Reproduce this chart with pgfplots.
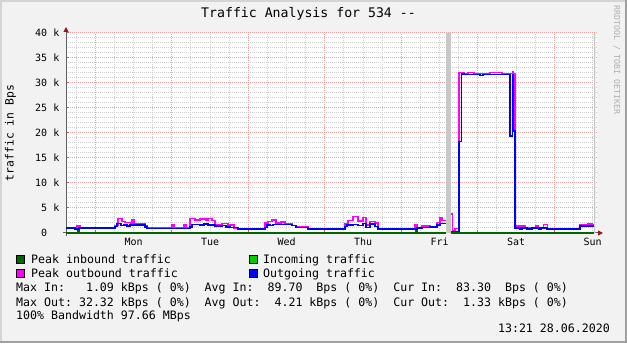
\documentclass[border=0pt]{standalone}
\usepackage{fontspec}
\setmainfont{DejaVu Sans Mono}
\usepackage{pgfplots}
\pgfplotsset{compat=1.18}
\usetikzlibrary{arrows.meta}
\definecolor{bgc}{RGB}{242,242,242}
\definecolor{shadea}{RGB}{212,212,212}
\definecolor{shadeb}{RGB}{160,160,160}
\definecolor{mgridc}{RGB}{236,160,160}
\definecolor{gridc}{RGB}{206,206,206}
\definecolor{tickc}{RGB}{220,90,90}
\definecolor{axisc}{RGB}{95,95,95}
\definecolor{arrowc}{RGB}{150,25,25}
\definecolor{peakinc}{RGB}{0,102,0}
\definecolor{incomingc}{RGB}{0,204,0}
\definecolor{peakoutc}{RGB}{255,0,255}
\definecolor{outgoingc}{RGB}{0,0,255}
\definecolor{unkc}{RGB}{200,200,200}
\definecolor{wmc}{RGB}{175,175,175}
\begin{document}
\begin{tikzpicture}
\fill[bgc] (0pt,0pt) rectangle (627pt,343pt);
\fill[shadea] (0pt,0pt) rectangle (2pt,343pt);
\fill[shadea] (0pt,341pt) rectangle (627pt,343pt);
\fill[shadeb] (625pt,0pt) rectangle (627pt,343pt);
\fill[shadeb] (0pt,0pt) rectangle (627pt,2pt);
\node[anchor=base, font=\fontsize{13.2}{15}\selectfont] at (308.5pt,325pt) {Traffic Analysis for 534 -{}-};
\node[rotate=90, anchor=base, font=\fontsize{11.4}{13}\selectfont] at (13.5pt,210pt) {traffic in Bps};
\node[rotate=-90, anchor=base, font=\fontsize{8.3}{10}\selectfont, text=wmc] at (614pt,283pt) {RRDTOOL / TOBI OETIKER};
\begin{axis}[
  at={(66pt,110pt)}, anchor=south west,
  width=531pt, height=200pt, scale only axis,
  xmin=-9.19, xmax=157.4, ymin=0, ymax=40,
  clip=false,
  axis lines=left,
  axis line style={draw=axisc, line width=1pt, shorten <=-3pt, shorten >=-6pt, -{Triangle[length=5pt,width=5pt,color=arrowc]}},
  axis background/.style={fill=white},
  xtick={0,24,...,144},
  xticklabels={},
  minor xtick={-6,6,12,18,30,36,42,54,60,66,78,84,90,102,108,114,126,132,138,150,156},
  ytick={0,5,...,40},
  yticklabels={0\hphantom{~k},5~k,10~k,15~k,20~k,25~k,30~k,35~k,40~k},
  minor y tick num=4,
  grid=both,
  major grid style={draw=mgridc, line width=1pt, dash pattern=on 1pt off 1pt},
  minor grid style={draw=gridc, line width=1pt, dash pattern=on 1pt off 1pt},
  tick align=inside, major tick length=3pt, minor tick length=0pt,
  major tick style={draw=tickc, line width=1pt},
  extra x ticks={12,36,60,84,108,132,156},
  extra x tick labels={Mon,Tue,Wed,Thu,Fri,Sat,Sun},
  extra x tick style={grid=none, major tick length=0pt, xticklabel style={anchor=base, inner sep=0pt, yshift=-13pt}},
  yticklabel style={anchor=east, inner sep=0pt, xshift=-6.5pt},
  tick label style={font=\fontsize{10}{12}\selectfont},
]
% unknown data bands
\addplot[draw=none, fill=unkc] coordinates {(110.03,0) (110.03,40) (111.59,40) (111.59,0)} \closedcycle;
\addplot[draw=none, fill=unkc] coordinates {(156.45,0) (156.45,40) (156.92,40) (156.92,0)} \closedcycle;
% incoming traffic (area)
\addplot[const plot, draw=none, fill=incomingc] coordinates {(-9.19,0.09) (110.03,0.09)} \closedcycle;
\addplot[const plot, draw=none, fill=incomingc] coordinates {(111.59,0.08) (156.45,0.08)} \closedcycle;
% peak inbound
\addplot[const plot, draw=peakinc, line width=2.2pt] coordinates {(-9.19,0.05) (-5.43,0.6) (-5.11,0.05) (100.61,1.09) (100.93,0.05) (110.03,0.05)};
\addplot[const plot, draw=peakinc, line width=2.2pt] coordinates {(111.59,0.05) (156.45,0.05)};
% peak outbound
\addplot[const plot, draw=peakoutc, line width=1.2pt] coordinates {
(-9.19,1.1) (-5.74,1.4) (-4.80,1.1) (6.18,1.5) (7.12,2.9) (8.38,2.3) (9.32,2.1) (11.20,2.0) (11.51,2.6) (12.14,1.9)
(15.59,1.5) (16.22,1.1) (24.06,1.7) (24.69,1.1) (27.83,1.6) (28.46,1.1) (29.71,2.9) (31.28,2.6) (32.85,2.8) (34.73,2.5)
(35.36,2.9) (36.61,2.5) (37.55,1.7) (39.75,1.9) (41.63,1.6) (43.51,0.9) (53.24,2.0) (54.18,2.3) (55.44,2.6) (56.69,2.0)
(58.26,2.2) (59.51,1.9) (61.71,1.5) (62.97,1.2) (66.73,0.9) (78.34,1.9) (79.28,2.5) (80.85,3.3) (82.42,2.4) (83.99,3.1)
(84.93,1.6) (86.18,2.3) (87.75,2.0) (88.69,0.9) (100.30,1.7) (100.93,0.9) (102.49,1.4) (105.00,1.3) (107.20,2.1)
(108.14,3.0) (108.77,2.5) (110.03,2.5)};
\addplot[const plot, draw=peakoutc, line width=1.2pt] coordinates {
(111.59,3.8) (112.06,0.5) (112.85,0.9) (114.10,32.1) (115.67,31.9) (116.93,32.1) (118.81,31.9) (123.83,32.1) (127.59,31.9)
(130.83,32.3) (131.14,31.9) (131.67,1.4) (134.81,1.1) (136.90,0.9) (138.26,1.4) (138.98,0.9) (140.55,1.7) (141.81,0.9)
(152.06,1.6) (154.57,1.8) (155.83,1.6) (156.45,1.6)};
% outgoing
\addplot[const plot, draw=outgoingc, line width=1.6pt] coordinates {
(-9.19,0.95) (-6.37,0.8) (-5.11,0.95) (6.18,1.3) (6.81,1.9) (8.06,1.5) (9.00,1.6) (9.95,1.4) (10.89,1.6) (15.59,1.2)
(16.22,0.9) (29.71,1.2) (30.34,1.7) (32.85,1.6) (34.10,1.8) (35.36,1.6) (37.55,1.4) (39.75,1.5) (41.00,1.2) (42.26,1.1)
(44.77,0.85) (53.24,1.1) (53.87,1.6) (54.81,1.5) (55.75,1.7) (61.71,1.5) (62.97,1.1) (66.73,0.85) (78.34,1.3) (78.97,1.6)
(80.85,1.7) (82.42,1.5) (83.99,1.9) (84.93,1.1) (86.18,1.8) (87.75,1.3) (88.69,0.85) (100.93,0.95) (102.49,1.1)
(105.00,1.2) (107.20,1.6) (108.14,1.9) (110.03,1.9)};
\addplot[const plot, draw=outgoingc, line width=1.6pt] coordinates {
(111.59,0.3) (114.10,18.3) (114.95,31.8) (115.67,31.7) (120.69,31.5) (121.63,31.7) (130.10,19.4) (130.83,31.7)
(131.14,20.4) (131.67,0.95) (133.24,0.8) (133.87,0.95) (135.44,0.8) (137.00,0.95) (139.20,0.8) (139.83,0.95)
(141.71,0.8) (152.06,1.4) (156.45,1.4)};
\end{axis}
% legend
\filldraw[fill=peakinc, draw=black, line width=0.6pt] (16.5pt,79.3pt) rectangle (24.5pt,87.7pt);
\filldraw[fill=peakoutc, draw=black, line width=0.6pt] (16.5pt,65.5pt) rectangle (24.5pt,73.9pt);
\filldraw[fill=incomingc, draw=black, line width=0.6pt] (249pt,79.3pt) rectangle (257pt,87.7pt);
\filldraw[fill=outgoingc, draw=black, line width=0.6pt] (249pt,65.5pt) rectangle (257pt,73.9pt);
\begin{scope}[every node/.style={font=\fontsize{11.6}{14}\selectfont, inner sep=0pt}]
\node[anchor=base west] at (31pt,79.5pt) {Peak inbound traffic};
\node[anchor=base west] at (31pt,65.5pt) {Peak outbound traffic};
\node[anchor=base west] at (263pt,79.5pt) {Incoming traffic};
\node[anchor=base west] at (263pt,65.5pt) {Outgoing traffic};
\node[anchor=base west] at (16pt,51pt) {Max~In:~~~1.09~kBps~(~0\%)~~Avg~In:~~89.70~~Bps~(~0\%)~~Cur~In:~~83.30~~Bps~(~0\%)};
\node[anchor=base west] at (16pt,37pt) {Max~Out:~32.32~kBps~(~0\%)~~Avg~Out:~~4.21~kBps~(~0\%)~~Cur~Out:~~1.33~kBps~(~0\%)};
\node[anchor=base west] at (16pt,23.5pt) {100\%~Bandwidth~97.66~MBps};
\node[anchor=base east] at (610pt,10pt) {13:21~28.06.2020};
\end{scope}
\pgfresetboundingbox
\path[use as bounding box] (0pt,0pt) rectangle (627pt,343pt);
\end{tikzpicture}
\end{document}
